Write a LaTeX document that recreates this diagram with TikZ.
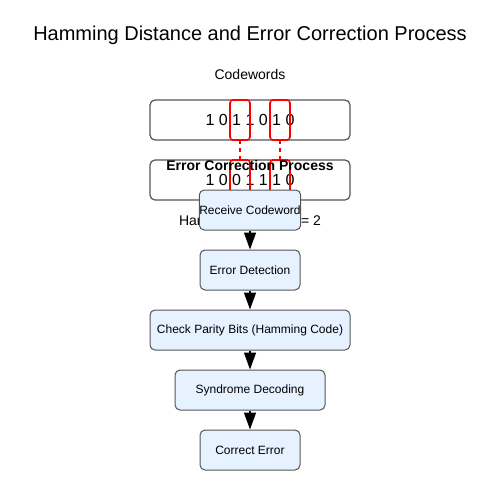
\documentclass[tikz,border=0pt]{standalone}
\usepackage{fontspec}
\setmainfont{Liberation Sans}
\usetikzlibrary{arrows.meta}
\definecolor{boxblue}{HTML}{E6F2FF}
\definecolor{boxgray}{HTML}{555555}
\begin{document}
\begin{tikzpicture}[x=1pt,y=-1pt,
  codebox/.style={draw=boxgray,line width=1.2pt,fill=white,rounded corners=5pt},
  redbox/.style={draw=red,line width=1.6pt,rounded corners=3pt},
  reddash/.style={draw=red,line width=1.6pt,dash pattern=on 4pt off 4pt},
  flowbox/.style={draw=boxgray,line width=1pt,fill=boxblue,rounded corners=5pt,
     minimum height=40pt,inner sep=0pt,font=\fontsize{12}{14}\selectfont},
  flowarrow/.style={line width=1.5pt,-{Triangle[length=17pt,width=12pt]}},
  txt/.style={inner sep=0pt,anchor=base}]
\useasboundingbox (0,0) rectangle (500,500);
\fill[white] (0,0) rectangle (500,500);
\node[txt,font=\fontsize{20}{24}\selectfont] (title) at (250,40.5) {Hamming Distance and Error Correction Process};
\node[txt,font=\fontsize{14}{17}\selectfont] (cw) at (250,80) {Codewords};
% codeword boxes
\draw[codebox] (150,100) rectangle (350,140);
\draw[codebox] (150,160) rectangle (350,200);
\node[txt,font=\fontsize{16}{19}\selectfont] (c1) at (250,125.5) {1 0 1 1 0 1 0};
\node[txt,font=\fontsize{16}{19}\selectfont] (c2) at (250,185.5) {1 0 0 1 1 1 0};
\draw[redbox] (230,100) rectangle (250,140);
\draw[redbox] (270,100) rectangle (290,140);
\draw[redbox] (230,160) rectangle (250,200);
\draw[redbox] (270,160) rectangle (290,200);
\coordinate (d1a) at (240,140); \coordinate (d1b) at (240,160);
\coordinate (d2a) at (280,140); \coordinate (d2b) at (280,160);
\draw[reddash] (d1a) -- (d1b);
\draw[reddash] (d2a) -- (d2b);
\node[txt,font=\fontsize{14}{17}\selectfont] (hd) at (250,225) {Hamming Distance = 2};
\node[txt,font=\bfseries\fontsize{14}{17}\selectfont] (ecp) at (250,170) {Error Correction Process};
% flow
\node[flowbox,minimum width=100pt] (n1) at (250,210) {Receive Codeword};
\node[flowbox,minimum width=100pt] (n2) at (250,270) {Error Detection};
\node[flowbox,minimum width=200pt] (n3) at (250,330) {Check Parity Bits (Hamming Code)};
\node[flowbox,minimum width=150pt] (n4) at (250,390) {Syndrome Decoding};
\node[flowbox,minimum width=100pt] (n5) at (250,450) {Correct Error};
\draw[flowarrow] (n1.south) -- (n2.north);
\draw[flowarrow] (n2.south) -- (n3.north);
\draw[flowarrow] (n3.south) -- (n4.north);
\draw[flowarrow] (n4.south) -- (n5.north);
\end{tikzpicture}
\end{document}
